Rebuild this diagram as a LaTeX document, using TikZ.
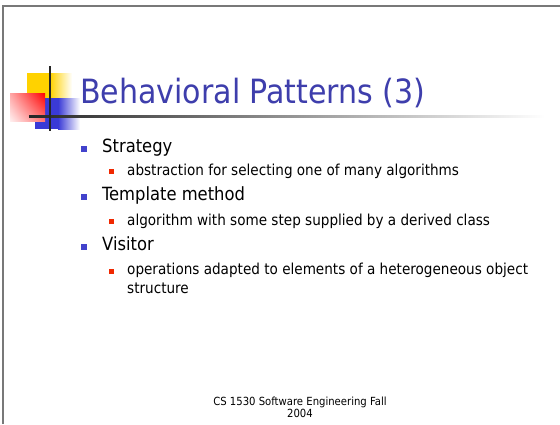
\documentclass[tikz,border=0pt]{standalone}
\usepackage{fontspec}
\setmainfont{DejaVu Sans Condensed}
\usetikzlibrary{positioning, shadings}

\definecolor{titleblue}{RGB}{62,62,172}
\definecolor{bulletblue}{RGB}{66,66,204}
\definecolor{bulletred}{RGB}{240,40,0}
\definecolor{logoyellow}{RGB}{255,210,0}
\definecolor{logoblue}{RGB}{58,58,214}
\definecolor{framegray}{RGB}{120,120,120}

\begin{document}
\begin{tikzpicture}[
				x=1pt, y=-1pt,
				lvlone/.style={anchor=base west, inner sep=0pt, font=\fontsize{18.2}{20}\selectfont},
				lvltwo/.style={anchor=base west, inner sep=0pt, align=left, font=\fontsize{15.1}{18.5}\selectfont},
				bulone/.style={fill=bulletblue, minimum size=6pt, inner sep=0pt},
				bultwo/.style={fill=bulletred, minimum size=5pt, inner sep=0pt}
				]
				\useasboundingbox (0,0) rectangle (560,424);
				% slide frame
				\draw[framegray, line width=2pt] (3,424) -- (3,6) -- (560,6);
				% logo
				\fill[logoyellow] (27,73) rectangle (50,99);
				\shade[left color=logoyellow, right color=white] (50,73) rectangle (72,99);
				\fill[logoblue] (35,98) rectangle (58,129);
				\shade[left color=logoblue, right color=white] (58,98) rectangle (80,129);
				\shade[upper left=red!35!white, upper right=red, lower left=red!6!white, lower right=red!55!white] (10,93) rectangle (45,121);
				\shade[left color=black!85, right color=white] (29,115) rectangle (545,117.5);
				\fill[black!85] (48.8,66) rectangle (51.2,131);
				% title
				\node[anchor=base west, inner sep=0pt, text=titleblue, font=\fontsize{33.4}{40}\selectfont] (title) at (80,103) {Behavioral Patterns (3)};
				% bullets
				\node[lvlone] (strat) at (102,152) {Strategy};
				\node[lvltwo] (stratd) at (127,175) {abstraction for selecting one of many algorithms};
				\node[lvlone] (templ) at (102,200) {Template method};
				\node[lvltwo] (templd) at (127,225) {algorithm with some step supplied by a derived class};
				\node[lvlone] (visit) at (102,250) {Visitor};
				\node[lvltwo] (visitd) at (127,293) {operations adapted to elements of a heterogeneous object\\structure};
				\node[bulone] (b1) at ([xshift=-18pt, yshift=3pt]strat.base west) {};
				\node[bulone] (b2) at ([xshift=-18pt, yshift=3pt]templ.base west) {};
				\node[bulone] (b3) at ([xshift=-18pt, yshift=3pt]visit.base west) {};
				\node[bultwo] (s1) at ([xshift=-15.5pt, yshift=3.5pt]stratd.base west) {};
				\node[bultwo] (s2) at ([xshift=-15.5pt, yshift=3.5pt]templd.base west) {};
				\node[bultwo] (s3) at ([xshift=-15.5pt, yshift=22pt]visitd.base west) {};
				% footer
				\node[anchor=base, inner sep=0pt, align=center, font=\fontsize{11.2}{10.6}\selectfont] (foot) at (300,417) {CS 1530 Software Engineering Fall\\2004};
			\end{tikzpicture}
\end{document}
